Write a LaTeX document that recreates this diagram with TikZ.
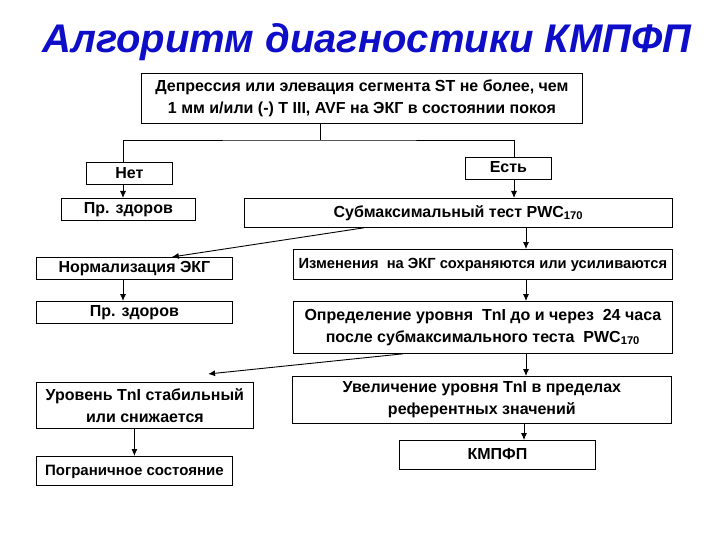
\documentclass[tikz,border=0pt]{standalone}
\usepackage{fontspec}
\setmainfont{Liberation Sans}
\definecolor{headblue}{RGB}{14,14,200}
\usetikzlibrary{arrows.meta,positioning,calc}
\tikzset{
  box/.style={draw=black, line width=0.8pt, fill=white, anchor=north west,
              inner sep=0pt, align=center, font=\fontsize{16}{22}\selectfont\bfseries},
  oneline/.style={box, text height=11.5pt, text depth=3pt},
  flow/.style={-{Latex[length=7pt,width=6pt]}, black, line width=0.9pt},
  link/.style={black, line width=0.9pt},
}

\begin{document}
\begin{tikzpicture}[x=1pt, y=-1pt]
    \useasboundingbox (0,0) rectangle (720,540);
    \node[font=\fontsize{40}{48}\selectfont\bfseries\itshape, text=headblue] (title) at (367,42) {Алгоритм диагностики КМПФП};

    \node[box, minimum width=441, minimum height=50] (ecg) at (141,73) {Депрессия или элевация сегмента ST не более, чем\\1 мм и/или (-) T III, AVF на ЭКГ в состоянии покоя};
    \node[oneline, minimum width=86, minimum height=22, text depth=1pt] (no) at (86,162) {Нет};
    \node[oneline, minimum width=86, minimum height=22] (yes) at (465,157) {Есть};
    \node[oneline, minimum width=134, minimum height=22] (healthyA) at (61,198) {Пр. здоров};
    \node[oneline, minimum width=428, minimum height=29] (test) at (244,198) {Субмаксимальный тест PWC\textsubscript{170}};
    \node[oneline, minimum width=379, minimum height=30, font=\fontsize{14.7}{20}\selectfont\bfseries] (change) at (293,249) {Изменения~ на ЭКГ сохраняются или усиливаются};
    \node[oneline, minimum width=196, minimum height=22] (norm) at (36,257) {Нормализация ЭКГ};
    \node[oneline, minimum width=196, minimum height=22] (healthyB) at (36,301) {Пр. здоров};
    \node[box, minimum width=379, minimum height=52] (tni) at (293,301) {Определение уровня~ TnI до и через~ 24 часа\\после субмаксимального теста~ PWC\textsubscript{170}};
    \node[box, minimum width=217, minimum height=46] (stable) at (36,382) {Уровень TnI стабильный\\или снижается};
    \node[box, minimum width=379, minimum height=47] (rise) at (292,376) {Увеличение уровня TnI в пределах\\референтных значений};
    \node[oneline, minimum width=196, minimum height=29, font=\fontsize{15}{20}\selectfont\bfseries] (border) at (36,456) {Пограничное состояние};
    \node[oneline, minimum width=196, minimum height=29] (cmp) at (399,440) {КМПФП};

    \coordinate (fork) at (320,140);
    \coordinate (lcol) at (123,0);
    \coordinate (rcol) at (526,0);

    \draw[link] (ecg.south -| fork) -- (fork);
    \draw[link] (no.north -| lcol) |- (fork) -| (yes.north -| 514,0);
    \draw[flow] (no.south -| lcol) -- (healthyA.north -| lcol);
    \draw[flow] (yes.south -| 514,0) -- (test.north -| 514,0);
    \draw[flow] (test.south -| rcol) -- (change.north -| rcol);
    \draw[flow] ($(test.south west)!0.28!(test.south east)$) -- ($(norm.north west)!0.69!(norm.north east)$);
    \draw[flow] (norm.south -| lcol) -- (healthyB.north -| lcol);
    \draw[flow] (change.south -| rcol) -- (tni.north -| rcol);
    \draw[flow] (tni.south -| rcol) -- (rise.north -| rcol);
    \draw[flow] ($(tni.south west)!0.29!(tni.south east)$) -- ([yshift=8pt]$(stable.north west)!0.79!(stable.north east)$);
    \draw[flow] (border.north |- stable.south) -- (border.north);
    \draw[flow] (rise.south -| 524,0) -- (cmp.north -| 524,0);
  \end{tikzpicture}
\end{document}
